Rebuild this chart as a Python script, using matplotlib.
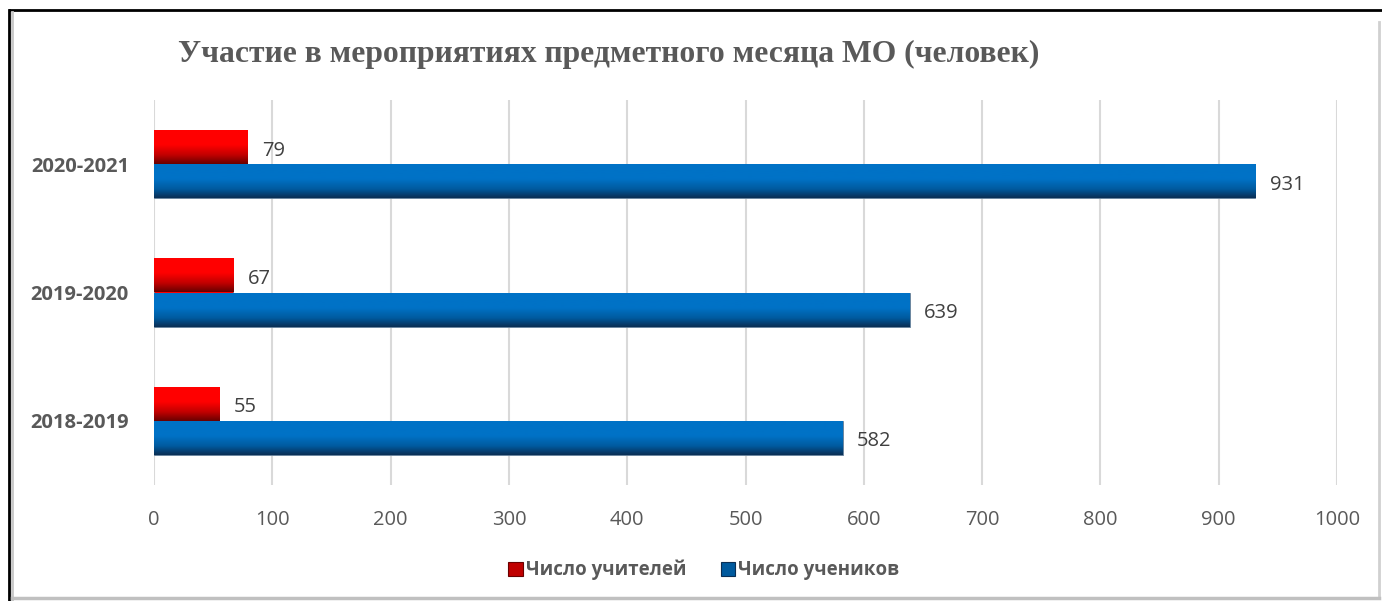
import matplotlib.pyplot as plt
import matplotlib.colors as mcolors
from matplotlib.lines import Line2D
from matplotlib.patches import Rectangle
import numpy as np

years = ['2018-2019', '2019-2020', '2020-2021']
teachers = [55, 67, 79]
students = [582, 639, 931]
series_names = ['Число учителей', 'Число учеников']

plt.rcParams['font.family'] = ['Open Sans', 'DejaVu Sans']

fig = plt.figure(figsize=(13.82, 6.01), dpi=100)
ax = fig.add_axes([154 / 1382, 1 - 485 / 601, 1183 / 1382, 385 / 601])

y = np.arange(len(years))
h = 0.265
bars_t = ax.barh(y + h / 2, teachers, h, color='#ff0000', edgecolor='#7f7f7f', linewidth=0.6, zorder=3)
bars_s = ax.barh(y - h / 2, students, h, color='#0070c0', edgecolor='#6a7f95', linewidth=0.6, zorder=3)


def shade(bars, top, mid, bottom):
    # vertical gradient clipped to each bar, gives the bevel look
    cmap = mcolors.LinearSegmentedColormap.from_list('g', [(0, bottom), (0.25, mid), (0.55, top), (1, top)])
    grad = np.linspace(0, 1, 64).reshape(-1, 1)
    for b in bars:
        x0, y0 = b.get_x(), b.get_y()
        im = ax.imshow(grad, cmap=cmap, aspect='auto', origin='lower',
                       extent=[x0, x0 + b.get_width(), y0, y0 + b.get_height()], zorder=3.5)
        im.set_clip_path(b)


shade(bars_t, '#ff0000', '#c00000', '#6a0000')
shade(bars_s, '#0072c6', '#005a9e', '#0a2f55')

for b, v in zip(bars_t, teachers):
    ax.text(v + 12, b.get_y() + b.get_height() * 0.4, str(v), va='center', ha='left',
            fontsize=14.5, color='#404040')
for b, v in zip(bars_s, students):
    ax.text(v + 12, b.get_y() + b.get_height() * 0.4, str(v), va='center', ha='left',
            fontsize=14.5, color='#404040')

ax.set_xlim(0, 1000)
ax.set_ylim(-0.5, 2.5)
ax.set_xticks(range(0, 1001, 100))
ax.set_yticks(y)
ax.set_yticklabels(years, fontsize=14.5, fontweight='bold', color='#595959')
ax.tick_params(axis='x', labelsize=14.5, labelcolor='#595959', length=0, pad=18)
ax.tick_params(axis='y', length=0, pad=18)
ax.xaxis.grid(True, color='#d9d9d9', linewidth=1.5, zorder=0)
ax.set_axisbelow(True)
for s in ax.spines.values():
    s.set_visible(False)

fig.text(178 / 1382, 1 - 54 / 601, 'Участие в мероприятиях предметного месяца МО (человек)',
         family='Liberation Serif', fontsize=22.8, fontweight='bold', color='#595959',
         ha='left', va='center')

handles = [Rectangle((0, 0), 1, 1, facecolor='#c00000', edgecolor='#6a0000', linewidth=0.8),
           Rectangle((0, 0), 1, 1, facecolor='#005a9e', edgecolor='#0a2f55', linewidth=0.8)]
fig.legend(handles, series_names, loc='center', bbox_to_anchor=(704 / 1382, 1 - 570 / 601), ncol=2,
           frameon=False, handlelength=0.75, handleheight=0.75, handletextpad=0.2, columnspacing=1.8,
           prop={'size': 13.5, 'weight': 'bold'}, labelcolor='#595959')

# chart frame with shadow
fig.add_artist(Line2D([10 / 1382, 1], [1 - 10 / 601, 1 - 10 / 601], color='black', linewidth=2))
fig.add_artist(Line2D([9 / 1382, 9 / 1382], [0, 1 - 10 / 601], color='black', linewidth=2))
fig.add_artist(Line2D([12 / 1382, 12 / 1382], [0, 1 - 12 / 601], color='#c8c8c8', linewidth=2))
fig.add_artist(Line2D([1379 / 1382, 1379 / 1382], [3 / 601, 1 - 22 / 601], color='#d0d0d0', linewidth=2))
fig.add_artist(Line2D([12 / 1382, 1379 / 1382], [3 / 601, 3 / 601], color='#c0c0c0', linewidth=2.5))

fig.savefig('out.png', dpi=100)
